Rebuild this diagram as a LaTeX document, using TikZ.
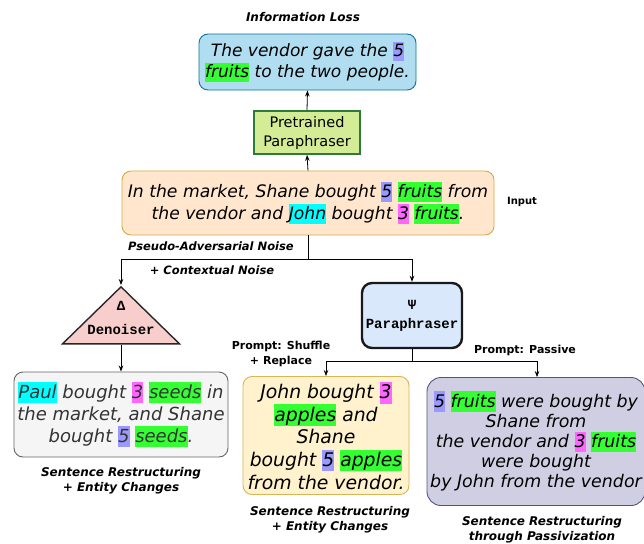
\documentclass[tikz,border=0pt]{standalone}
\usepackage{fontspec}
\setmainfont{DejaVu Sans}
\setmonofont{Liberation Mono}
\usetikzlibrary{arrows.meta,shapes.geometric}

\definecolor{lossfill}{HTML}{B1DDF0}
\definecolor{lossline}{HTML}{10739E}
\definecolor{prefill}{HTML}{D3EC95}
\definecolor{preline}{HTML}{2D7A3A}
\definecolor{inpfill}{HTML}{FFE6CC}
\definecolor{inpline}{HTML}{D7A94B}
\definecolor{denfill}{HTML}{F8CECC}
\definecolor{parafill}{HTML}{DAE8FC}
\definecolor{grayfill}{HTML}{F5F5F5}
\definecolor{grayline}{HTML}{666666}
\definecolor{graytext}{HTML}{333333}
\definecolor{yelfill}{HTML}{FFF2CC}
\definecolor{yelline}{HTML}{D6B656}
\definecolor{purfill}{HTML}{D0CEE2}
\definecolor{purline}{HTML}{56517E}
\definecolor{hlblue}{HTML}{9999FF}
\definecolor{hlgreen}{HTML}{33FF33}
\definecolor{hlcyan}{HTML}{00FFFF}
\definecolor{hlpink}{HTML}{FF66FF}

\newcommand{\hl}[2]{{\setlength{\fboxsep}{0pt}\colorbox{#1}{\rule[-0.26em]{0pt}{1.16em}#2}}}

\begin{document}
\begin{tikzpicture}[x=1pt,y=-1pt,
  txtbox/.style={rounded corners=9pt,draw,line width=0.9pt,align=center,inner sep=0pt},
  tag/.style={font=\fontsize{12}{15}\selectfont\bfseries\itshape,align=center},
  plain/.style={font=\fontsize{11}{15}\selectfont\bfseries,align=center},
  arr/.style={-{Stealth[length=6pt,width=4.5pt]},line width=0.8pt}]
\useasboundingbox (0,0) rectangle (644,543);

% boxes
\node[txtbox,fill=lossfill,draw=lossline,minimum width=217pt,minimum height=56pt,
  font=\fontsize{17}{21}\selectfont\itshape] (loss) at (307.5,62)
  {The vendor gave the \hl{hlblue}{5}\\\hl{hlgreen}{fruits} to the two people.};
\node[draw=preline,fill=prefill,line width=1.8pt,minimum width=106pt,minimum height=43pt,
  inner sep=0pt,align=center,font=\fontsize{14.5}{19}\selectfont] (pre) at (307,132.5)
  {Pretrained\\Paraphraser};
\node[txtbox,fill=inpfill,draw=inpline,minimum width=372pt,minimum height=64pt,
  font=\fontsize{17.2}{22}\selectfont\itshape] (inp) at (308,203)
  {In the market, Shane bought \hl{hlblue}{5} \hl{hlgreen}{fruits} from\\the vendor and \hl{hlcyan}{John} bought \hl{hlpink}{3} \hl{hlgreen}{fruits}.};
\node[isosceles triangle,shape border rotate=90,isosceles triangle stretches,
  minimum width=117pt,minimum height=57pt,inner sep=0pt,anchor=apex,
  draw=black!85,fill=denfill,line width=1.4pt] (den) at (121,285) {};
\node[font=\fontsize{14}{18}\selectfont\ttfamily\bfseries] (delta) at (121,306) {Δ};
\node[font=\fontsize{14}{18}\selectfont\ttfamily\bfseries] (denname) at (121,329) {Denoiser};
\node[txtbox,fill=parafill,draw=black!90,line width=2.4pt,rounded corners=10pt,
  minimum width=100pt,minimum height=65pt,font=\fontsize{14}{19}\selectfont\ttfamily\bfseries] (para) at (412,315.5)
  {Ψ\\Paraphraser};
\node[txtbox,fill=grayfill,draw=grayline,text=graytext,minimum width=214pt,minimum height=85pt,
  font=\fontsize{18}{22}\selectfont\itshape] (outden) at (121,414.5)
  {\hl{hlcyan}{Paul} bought \hl{hlpink}{3} \hl{hlgreen}{seeds} in\\the market, and Shane\\bought \hl{hlblue}{5} \hl{hlgreen}{seeds}.};
\node[txtbox,fill=yelfill,draw=yelline,minimum width=166pt,minimum height=118pt,
  font=\fontsize{18.8}{22.6}\selectfont\itshape] (outshuf) at (326,435.5)
  {John bought \hl{hlpink}{3}\\\hl{hlgreen}{apples} and\\Shane\\bought \hl{hlblue}{5} \hl{hlgreen}{apples}\\from the vendor.};
\node[txtbox,fill=purfill,draw=purline,rounded corners=14pt,minimum width=218pt,minimum height=128pt,
  font=\fontsize{17.4}{20.2}\selectfont\itshape] (outpass) at (536,441.5)
  {\hl{hlblue}{5} \hl{hlgreen}{fruits} were bought by\\Shane from\\the vendor and \hl{hlpink}{3} \hl{hlgreen}{fruits}\\were bought\\by John from the vendor};

% labels
\node[tag] (losslbl) at (303,17) {Information Loss};
\node[plain,font=\fontsize{10}{12}\selectfont\bfseries] (inplbl) at (522,202) {Input};
\node[tag,font=\fontsize{11.5}{14}\selectfont\bfseries\itshape] (noise1) at (211,246) {Pseudo-Adversarial Noise};
\node[tag,font=\fontsize{11.5}{14}\selectfont\bfseries\itshape] (noise2) at (212,270) {+ Contextual Noise};
\node[plain] (shuflbl) at (281,353.5) {Prompt: Shuffle\\+ Replace};
\node[plain] (passlbl) at (525,350) {Prompt: Passive};
\node[tag] (capden) at (121,480.5) {Sentence Restructuring\\+ Entity Changes};
\node[tag] (capshuf) at (330,519.5) {Sentence Restructuring\\+ Entity Changes};
\node[tag] (cappass) at (542,529.5) {Sentence Restructuring\\through Passivization};

% connectors
\draw[arr] (pre.north) -- (loss.south);
\draw[arr] (inp.north) -- (pre.south);
\coordinate (split) at (308,259);
\draw[arr] (inp.south) -- (split) -| (den.apex);
\draw[arr] (split) -| (para.north);
\draw[arr] (den.lower side) -- (outden.north);
\coordinate (fork) at (412,361);
\draw[arr] (para.south) -- (fork) -| (outshuf.north);
\draw[arr] (fork) -| ([xshift=1pt]outpass.north);
\end{tikzpicture}
\end{document}
